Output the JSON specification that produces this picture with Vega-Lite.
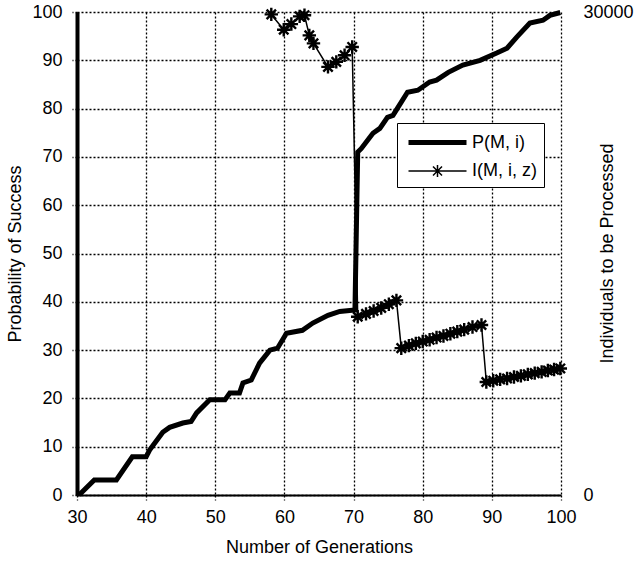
{
  "$schema": "https://vega.github.io/schema/vega-lite/v6.json",
  "width": 484,
  "height": 483,
  "autosize": {"type": "none"},
  "padding": {"left": 77, "top": 12, "right": 74, "bottom": 70},
  "background": "white",
  "datasets": {
    "p": [
      {"series": "P(M, i)", "generation": 30.3, "probability": 0},
      {"series": "P(M, i)", "generation": 32.5, "probability": 3.1},
      {"series": "P(M, i)", "generation": 35.7, "probability": 3.1},
      {"series": "P(M, i)", "generation": 38.0, "probability": 7.9},
      {"series": "P(M, i)", "generation": 40.0, "probability": 7.9},
      {"series": "P(M, i)", "generation": 40.5, "probability": 9.3},
      {"series": "P(M, i)", "generation": 42.4, "probability": 13},
      {"series": "P(M, i)", "generation": 43.4, "probability": 14},
      {"series": "P(M, i)", "generation": 45.3, "probability": 14.9},
      {"series": "P(M, i)", "generation": 46.5, "probability": 15.2},
      {"series": "P(M, i)", "generation": 47.3, "probability": 17},
      {"series": "P(M, i)", "generation": 49.2, "probability": 19.7},
      {"series": "P(M, i)", "generation": 51.4, "probability": 19.7},
      {"series": "P(M, i)", "generation": 52.1, "probability": 21.1},
      {"series": "P(M, i)", "generation": 53.5, "probability": 21.1},
      {"series": "P(M, i)", "generation": 54.0, "probability": 23.2},
      {"series": "P(M, i)", "generation": 55.2, "probability": 23.8},
      {"series": "P(M, i)", "generation": 56.4, "probability": 27.3},
      {"series": "P(M, i)", "generation": 57.9, "probability": 30},
      {"series": "P(M, i)", "generation": 59.0, "probability": 30.4},
      {"series": "P(M, i)", "generation": 60.3, "probability": 33.5},
      {"series": "P(M, i)", "generation": 62.6, "probability": 34.1},
      {"series": "P(M, i)", "generation": 64.1, "probability": 35.6},
      {"series": "P(M, i)", "generation": 66.3, "probability": 37.2},
      {"series": "P(M, i)", "generation": 68.0, "probability": 38},
      {"series": "P(M, i)", "generation": 70.2, "probability": 38.3},
      {"series": "P(M, i)", "generation": 70.6, "probability": 71},
      {"series": "P(M, i)", "generation": 71.1, "probability": 71.7},
      {"series": "P(M, i)", "generation": 72.8, "probability": 74.9},
      {"series": "P(M, i)", "generation": 73.8, "probability": 75.9},
      {"series": "P(M, i)", "generation": 74.9, "probability": 78.2},
      {"series": "P(M, i)", "generation": 75.7, "probability": 78.6},
      {"series": "P(M, i)", "generation": 77.8, "probability": 83.4},
      {"series": "P(M, i)", "generation": 79.3, "probability": 83.8},
      {"series": "P(M, i)", "generation": 81.0, "probability": 85.5},
      {"series": "P(M, i)", "generation": 82.0, "probability": 85.9},
      {"series": "P(M, i)", "generation": 83.7, "probability": 87.5},
      {"series": "P(M, i)", "generation": 85.8, "probability": 89.0},
      {"series": "P(M, i)", "generation": 88.3, "probability": 90.0},
      {"series": "P(M, i)", "generation": 90.7, "probability": 91.5},
      {"series": "P(M, i)", "generation": 92.2, "probability": 92.5},
      {"series": "P(M, i)", "generation": 93.6, "probability": 94.8},
      {"series": "P(M, i)", "generation": 95.5, "probability": 97.7},
      {"series": "P(M, i)", "generation": 97.4, "probability": 98.3},
      {"series": "P(M, i)", "generation": 98.4, "probability": 99.3},
      {"series": "P(M, i)", "generation": 99.9, "probability": 99.9}
    ],
    "i": [
      {"series": "I(M, i, z)", "generation": 58.1, "individuals": 29850},
      {"series": "I(M, i, z)", "generation": 59.9, "individuals": 28900},
      {"series": "I(M, i, z)", "generation": 61.0, "individuals": 29250},
      {"series": "I(M, i, z)", "generation": 62.2, "individuals": 29730},
      {"series": "I(M, i, z)", "generation": 62.9, "individuals": 29800},
      {"series": "I(M, i, z)", "generation": 63.6, "individuals": 28550},
      {"series": "I(M, i, z)", "generation": 64.2, "individuals": 28050},
      {"series": "I(M, i, z)", "generation": 66.3, "individuals": 26590},
      {"series": "I(M, i, z)", "generation": 67.5, "individuals": 26900},
      {"series": "I(M, i, z)", "generation": 68.7, "individuals": 27310},
      {"series": "I(M, i, z)", "generation": 69.8, "individuals": 27830},
      {"series": "I(M, i, z)", "generation": 70.6, "individuals": 11070},
      {"series": "I(M, i, z)", "generation": 71.8, "individuals": 11250},
      {"series": "I(M, i, z)", "generation": 72.9, "individuals": 11430},
      {"series": "I(M, i, z)", "generation": 74.0, "individuals": 11620},
      {"series": "I(M, i, z)", "generation": 75.1, "individuals": 11850},
      {"series": "I(M, i, z)", "generation": 76.2, "individuals": 12090},
      {"series": "I(M, i, z)", "generation": 76.9, "individuals": 9120},
      {"series": "I(M, i, z)", "generation": 78.0, "individuals": 9280},
      {"series": "I(M, i, z)", "generation": 79.0, "individuals": 9420},
      {"series": "I(M, i, z)", "generation": 80.0, "individuals": 9530},
      {"series": "I(M, i, z)", "generation": 81.0, "individuals": 9640},
      {"series": "I(M, i, z)", "generation": 82.0, "individuals": 9780},
      {"series": "I(M, i, z)", "generation": 83.0, "individuals": 9880},
      {"series": "I(M, i, z)", "generation": 84.0, "individuals": 10020},
      {"series": "I(M, i, z)", "generation": 85.0, "individuals": 10150},
      {"series": "I(M, i, z)", "generation": 86.0, "individuals": 10270},
      {"series": "I(M, i, z)", "generation": 87.2, "individuals": 10430},
      {"series": "I(M, i, z)", "generation": 88.5, "individuals": 10560},
      {"series": "I(M, i, z)", "generation": 89.2, "individuals": 7020},
      {"series": "I(M, i, z)", "generation": 90.2, "individuals": 7100},
      {"series": "I(M, i, z)", "generation": 91.2, "individuals": 7180},
      {"series": "I(M, i, z)", "generation": 92.2, "individuals": 7240},
      {"series": "I(M, i, z)", "generation": 93.2, "individuals": 7330},
      {"series": "I(M, i, z)", "generation": 94.2, "individuals": 7400},
      {"series": "I(M, i, z)", "generation": 95.2, "individuals": 7490},
      {"series": "I(M, i, z)", "generation": 96.2, "individuals": 7570},
      {"series": "I(M, i, z)", "generation": 97.2, "individuals": 7650},
      {"series": "I(M, i, z)", "generation": 98.1, "individuals": 7730},
      {"series": "I(M, i, z)", "generation": 99.0, "individuals": 7790},
      {"series": "I(M, i, z)", "generation": 99.9, "individuals": 7860}
    ]
  },
  "encoding": {
    "x": {
      "field": "generation", "type": "quantitative",
      "scale": {"domain": [30, 100], "nice": false, "zero": false},
      "axis": {
        "title": "Number of Generations",
        "values": [30, 40, 50, 60, 70, 80, 90, 100],
        "grid": true, "tickSize": 5, "tickDash": [2, 2], "tickWidth": 1.3,
        "domainWidth": 2, "labelPadding": 8, "titlePadding": 12,
        "labelFlush": false
      }
    }
  },
  "layer": [
    {
      "data": {"name": "p"},
      "mark": {"type": "line", "color": "black", "strokeJoin": "miter", "strokeCap": "butt"},
      "encoding": {
        "y": {
          "field": "probability", "type": "quantitative",
          "scale": {"domain": [0, 100], "nice": false},
          "axis": {
            "title": "Probability of Success",
            "values": [0, 10, 20, 30, 40, 50, 60, 70, 80, 90, 100],
            "grid": true, "tickSize": 5, "tickDash": [2, 2], "tickWidth": 1.3,
            "domainWidth": 4, "labelPadding": 10, "titlePadding": 7,
            "labelFlush": false
          }
        },
        "strokeWidth": {
          "field": "series", "type": "nominal",
          "scale": {"domain": ["P(M, i)", "I(M, i, z)"], "range": [5, 1.5]},
          "legend": {
            "orient": "none", "legendX": 320, "legendY": 111, "title": null,
            "symbolType": "M-2.9,0H2.9", "symbolSize": 400,
            "symbolStrokeColor": "black", "symbolFillColor": "transparent",
            "symbolOffset": 21, "labelOffset": 22, "padding": 7, "rowPadding": 7,
            "strokeColor": "black", "fillColor": "white",
            "labelFont": "Liberation Sans", "labelFontSize": 18, "labelColor": "black",
            "encode": {
              "symbols": {
                "update": {
                  "shape": {"signal": "datum.value === 'I(M, i, z)' ? 'M-2.9,0H2.9M-0.6,0H0.6M0,-0.6V0.6M-0.45,-0.45L0.45,0.45M-0.45,0.45L0.45,-0.45' : 'M-2.9,0H2.9'"}
                }
              }
            }
          }
        }
      }
    },
    {
      "data": {"name": "i"},
      "encoding": {
        "y": {
          "field": "individuals", "type": "quantitative",
          "scale": {"domain": [0, 30000], "nice": false},
          "axis": {
            "orient": "right", "title": "Individuals to be Processed",
            "values": [0, 30000], "format": "d",
            "grid": false, "domain": false, "ticks": false,
            "labelPadding": 22, "labelFlush": false,
            "titleAngle": 270, "titleX": 46, "titleY": 241,
            "titleAlign": "center", "titleBaseline": "middle"
          }
        }
      },
      "layer": [
        {
          "mark": {"type": "line", "color": "black"},
          "encoding": {
            "strokeWidth": {"field": "series", "type": "nominal"}
          }
        },
        {
          "mark": {
            "type": "point",
            "shape": "M-1,0H1M0,-1V1M-0.7,-0.7L0.7,0.7M-0.7,0.7L0.7,-0.7",
            "filled": false, "stroke": "black", "strokeWidth": 2.4,
            "size": 180, "opacity": 1
          }
        }
      ]
    }
  ],
  "resolve": {"scale": {"y": "independent"}},
  "config": {
    "view": {"stroke": null},
    "font": "Liberation Sans",
    "axis": {
      "labelFont": "Liberation Sans", "titleFont": "Liberation Sans",
      "labelFontSize": 18, "titleFontSize": 18, "titleFontWeight": "normal",
      "labelColor": "black", "titleColor": "black",
      "gridColor": "black", "gridDash": [2, 2], "gridWidth": 1.3, "gridOpacity": 1,
      "tickColor": "black", "domainColor": "black"
    }
  }
}
